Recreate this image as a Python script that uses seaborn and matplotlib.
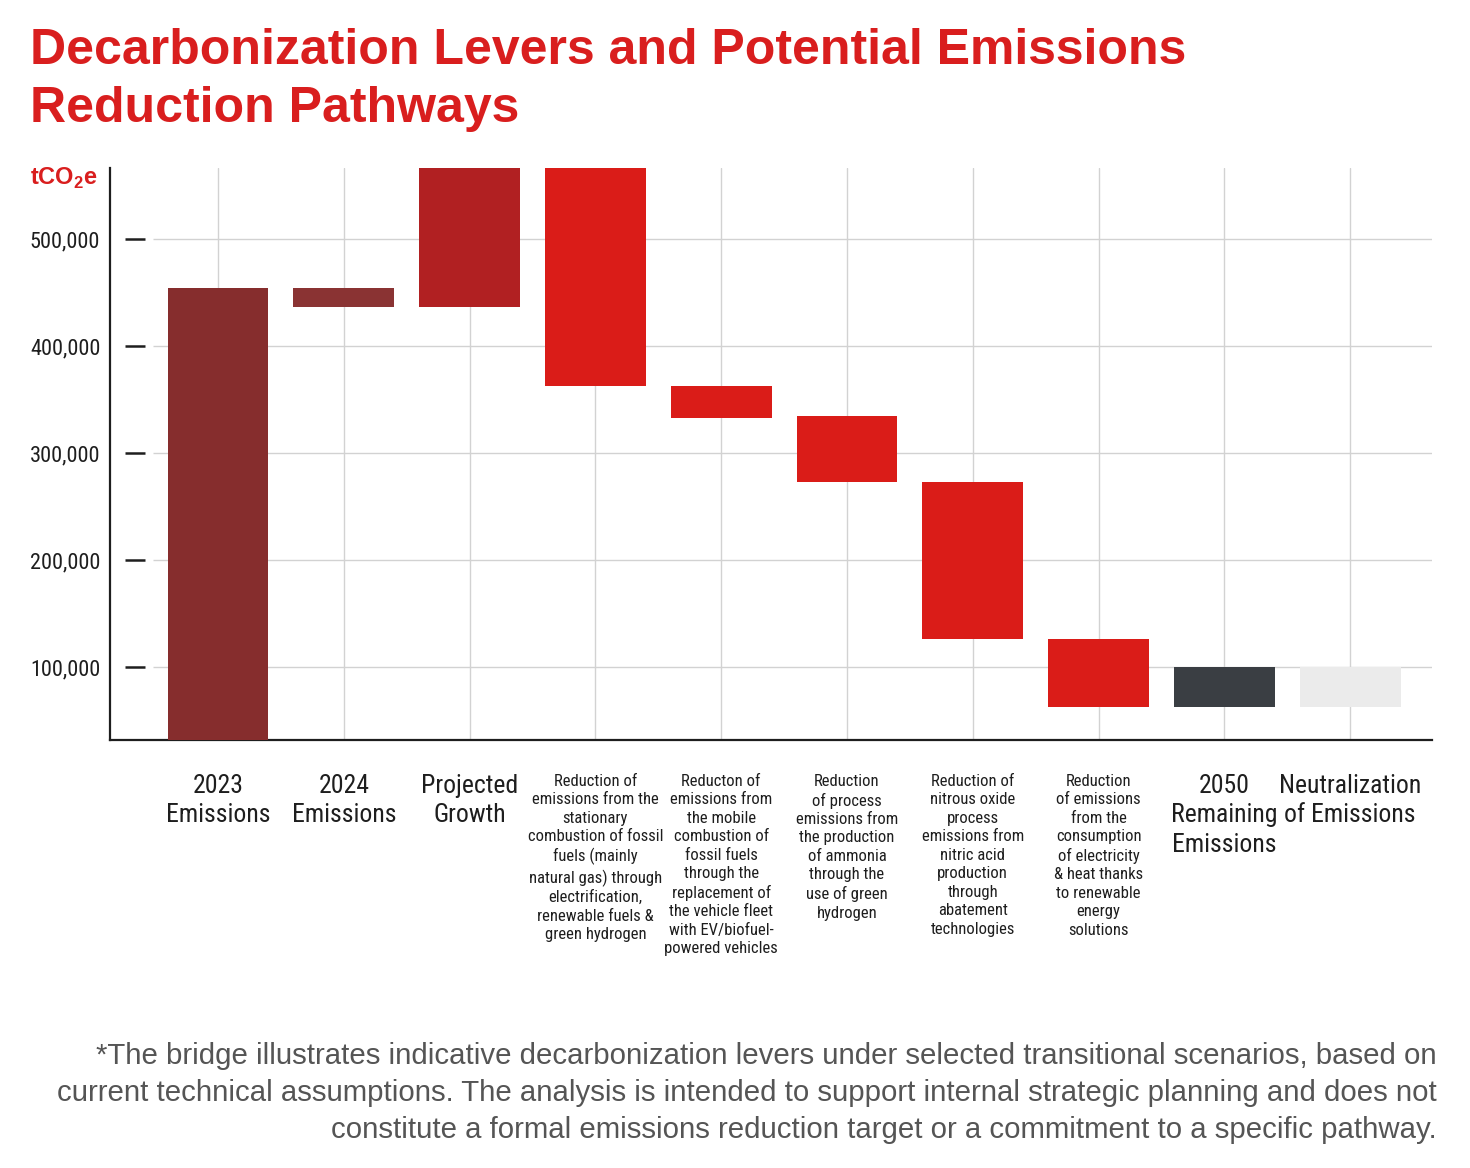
import matplotlib
matplotlib.use('Agg')
import matplotlib.pyplot as plt
import seaborn as sns
import pandas as pd
import numpy as np

## data (tCO2e)
levers = ['2023\nEmissions', '2024\nEmissions', 'Projected\nGrowth',
          'Reduction of\nemissions from the\nstationary\ncombustion of fossil\nfuels (mainly\nnatural gas) through\nelectrification,\nrenewable fuels &\ngreen hydrogen',
          'Reducton of\nemissions from\nthe mobile\ncombustion of\nfossil fuels\nthrough the\nreplacement of\nthe vehicle fleet\nwith EV/biofuel-\npowered vehicles',
          'Reduction\nof process\nemissions from\nthe production\nof ammonia\nthrough the\nuse of green\nhydrogen',
          'Reduction of\nnitrous oxide\nprocess\nemissions from\nnitric acid\nproduction\nthrough\nabatement\ntechnologies',
          'Reduction\nof emissions\nfrom the\nconsumption\nof electricity\n& heat thanks\nto renewable\nenergy\nsolutions',
          '2050\nRemaining\nEmissions', 'Neutralization\nof Emissions']
bar_bottom = [0, 436700, 436700, 362600, 332700, 272900, 126200, 62600, 62600, 62600]
bar_top = [454500, 454500, 600000, 600000, 362600, 334500, 272900, 126200, 100000, 100000]
bar_colors = ['#862d2d', '#8a3333', '#b12022', '#da1c18', '#da1c18', '#da1c18',
              '#da1c18', '#da1c18', '#3a3e43', '#ebebeb']
big_label = [True, True, True, False, False, False, False, False, True, True]
yticks = [100000, 200000, 300000, 400000, 500000]

title = 'Decarbonization Levers and Potential Emissions\nReduction Pathways'
note = ('*The bridge illustrates indicative decarbonization levers under selected transitional scenarios, based on\n'
        'current technical assumptions. The analysis is intended to support internal strategic planning and does not\n'
        'constitute a formal emissions reduction target or a commitment to a specific pathway.')

df = pd.DataFrame({'lever': levers,
                   'height': np.array(bar_top) - np.array(bar_bottom),
                   'bottom': bar_bottom})

sns.set_style('white')
plt.rcParams['font.family'] = ['Liberation Sans', 'DejaVu Sans']
plt.rcParams['mathtext.fontset'] = 'custom'
plt.rcParams['mathtext.bf'] = 'Liberation Sans:bold'
plt.rcParams['mathtext.rm'] = 'Liberation Sans'
narrow = ['Roboto Condensed', 'Archivo Narrow', 'Liberation Sans', 'DejaVu Sans']
red = '#d91e1e'
ink = '#1e1e1e'

fig = plt.figure(figsize=(14.7, 11.68), dpi=100)
W, H = 1470, 1168
ax = fig.add_axes([110 / W, (H - 740) / H, (1432 - 110) / W, (740 - 168) / H])

sns.barplot(data=df, x='lever', y='height', bottom=df['bottom'].values,
            color='#da1c18', errorbar=None, width=0.8, linewidth=0, ax=ax)
for patch, c in zip(ax.patches, bar_colors):
    patch.set_facecolor(c)
    patch.set_zorder(3)

ax.set_xlim(-0.858, 9.65)
ax.set_ylim(31800, 566400)
ax.set_xlabel('')
ax.set_ylabel('')

# spines
for s in ['top', 'right']:
    ax.spines[s].set_visible(False)
for s in ['left', 'bottom']:
    ax.spines[s].set_color(ink)
    ax.spines[s].set_linewidth(1.6)

# grid
ax.set_axisbelow(True)
ax.grid(axis='x', color='#d2d2d2', linewidth=1.0)
ax.grid(axis='y', visible=False)
ax.hlines(yticks, 0.0325, 1.0, transform=ax.get_yaxis_transform(),
          color='#d2d2d2', linewidth=1.0, zorder=0)
ax.hlines(yticks, 0.0113, 0.0265, transform=ax.get_yaxis_transform(),
          color=ink, linewidth=1.8, zorder=2, clip_on=False)

# y ticks
ax.set_yticks(yticks)
ax.set_yticklabels([f'{v:,}' for v in yticks], family=narrow, fontsize=16, color=ink)
ax.tick_params(axis='y', length=0, pad=7)

# x ticks
ax.set_xticks(range(len(levers)))
ax.set_xticklabels([])
ax.tick_params(axis='x', direction='out', length=12, width=1.6, color=ink)
for i, lab in enumerate(levers):
    if big_label[i]:
        ax.text(i, -0.059, lab, transform=ax.get_xaxis_transform(), ha='center', va='top',
                family=narrow, fontsize=18.5, color=ink, linespacing=1.3)
    else:
        ax.text(i, -0.059, lab, transform=ax.get_xaxis_transform(), ha='center', va='top',
                family=narrow, fontsize=12, color=ink, linespacing=1.29)

# unit label
fig.text(30 / W, 1 - 178 / H, r'tCO$_{\mathbf{2}}$e', color=red, fontsize=17,
         fontweight='bold', ha='left', va='center')

# title
fig.text(30 / W, 1 - 28 / H, title, color=red, fontsize=36, fontweight='bold',
         ha='left', va='top', linespacing=1.32)

# footnote
fig.text(1437 / W, 1 - 1042 / H, note, color='#555555', fontsize=21.15,
         ha='right', va='top', linespacing=1.4)

plt.savefig('out.png', dpi=100)
